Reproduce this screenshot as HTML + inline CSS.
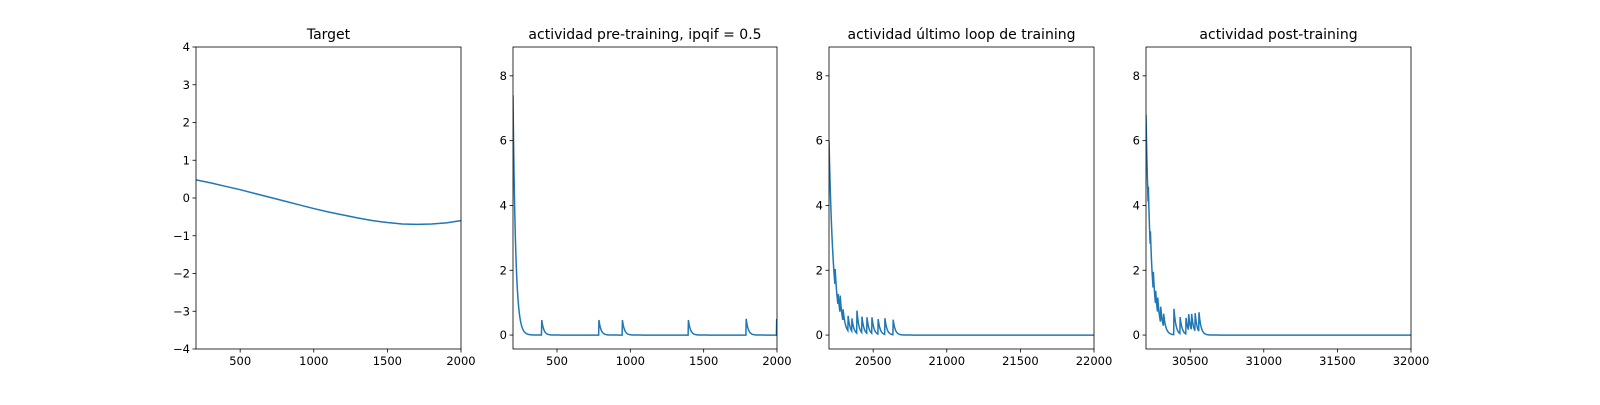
<!DOCTYPE html>
<html><head><meta charset="utf-8"><style>
body{margin:0;background:#fff}
svg text{font-family:"DejaVu Sans","Liberation Sans",sans-serif;fill:#000}
</style></head><body>
<svg id="fig" width="1600" height="400" xmlns="http://www.w3.org/2000/svg"></svg>
<script>
// Panel 1: target
const targetX = [200,300,400,500,600,700,800,900,1000,1100,1200,1300,1400,1500,1600,1700,1800,1900,2000];
const targetY = [0.48,0.40,0.31,0.22,0.12,0.02,-0.08,-0.18,-0.28,-0.37,-0.45,-0.53,-0.60,-0.65,-0.69,-0.70,-0.69,-0.66,-0.60];
// Panel 2: pre-training spikes
const preSpikeT = [200,395,785,945,1395,1790,1998];
const preSpikeA = [7.4,0.5,0.5,0.5,0.5,0.5,0.5];
// Panel 3: last training loop spikes
const lastSpikeT = [20200,20241,20261,20275,20295,20329,20356,20390,20424,20458,20492,20533,20580,20635];
const lastSpikeA = [6.0,0.6,0.4,0.6,0.4,0.5,0.4,0.7,0.5,0.5,0.5,0.5,0.5,0.5];
// Panel 4: post-training spikes
const postSpikeT = [30200,30215,30230,30250,30265,30280,30300,30320,30390,30431,30472,30490,30510,30533,30560];
const postSpikeA = [6.8,0.8,0.6,0.6,0.5,0.5,0.5,0.4,0.8,0.55,0.5,0.5,0.5,0.6,0.6];
const xTicks1 = [500,1000,1500,2000];
const xTicks3 = [20500,21000,21500,22000];
const xTicks4 = [30500,31000,31500,32000];
const yTicks1 = [-4,-3,-2,-1,0,1,2,3,4];
const yTicksAct = [0,2,4,6,8];

const NS="http://www.w3.org/2000/svg";
const svg=document.getElementById('fig');
function mk(tag,attrs,parent){const e=document.createElementNS(NS,tag);for(const k in attrs)e.setAttribute(k,attrs[k]);(parent||svg).appendChild(e);return e;}

function spikeSeries(ts,as,x0,x1,tau,tau0){
  const xs=[],ys=[];
  for(let x=x0;x<=x1;x+=2){
    let v=0;
    for(let i=0;i<ts.length;i++){if(x>=ts[i]){const t=i===0?tau0:tau;v+=as[i]*Math.exp(-(x-ts[i])/t);}}
    xs.push(x);ys.push(v);
  }
  return [xs,ys];
}

function panel(idx,left,right,x0,x1,y0,y1,xt,yt,title,xs,ys){
  const top=47,bot=349;
  const g=mk('g',{});
  
  
  const X=v=>left+(v-x0)/(x1-x0)*(right-left);
  const Y=v=>bot-(v-y0)/(y1-y0)*(bot-top);
  const cp=mk('clipPath',{id:'cp'+idx},g);mk('rect',{x:left,y:top,width:right-left,height:bot-top},cp);
  let d='';xs.forEach((x,i)=>{d+=(i?'L':'M')+X(x).toFixed(2)+','+Y(ys[i]).toFixed(2);});
  const p=mk('path',{d:d,fill:'none',stroke:'#1f77b4','stroke-width':1.5,'clip-path':'url(#cp'+idx+')'},g);
  
  
  const fr=mk('rect',{x:left,y:top,width:right-left,height:bot-top,fill:'none',stroke:'#000','stroke-width':0.8},g);
  
  
  xt.forEach(v=>{const x=X(v);mk('line',{x1:x,x2:x,y1:bot,y2:bot+3.5,stroke:'#000','stroke-width':0.8},g);
    const t=mk('text',{x:x,y:bot+16,'text-anchor':'middle','font-size':11.5},g);t.textContent=v;
    });
  yt.forEach(v=>{const y=Y(v);mk('line',{x1:left,x2:left-3.5,y1:y,y2:y,stroke:'#000','stroke-width':0.8},g);
    const t=mk('text',{x:left-6,y:y+4,'text-anchor':'end','font-size':11.5},g);t.textContent=v<0?'\u2212'+(-v):v;
    });
  const tt=mk('text',{x:(left+right)/2,y:39,'text-anchor':'middle','font-size':14},g);tt.textContent=title;
  
  
}
const yA0=-0.43,yA1=8.89;
panel(1,196,461,200,2000,-4,4,xTicks1,yTicks1,'Target',targetX,targetY);
let s=spikeSeries(preSpikeT,preSpikeA,200,2000,14,18);
panel(2,513,777,200,2000,yA0,yA1,xTicks1,yTicksAct,'actividad pre-training, ipqif = 0.5',s[0],s[1]);
s=spikeSeries(lastSpikeT,lastSpikeA,20200,22000,14,30);
panel(3,829,1094,20200,22000,yA0,yA1,xTicks3,yTicksAct,'actividad último loop de training',s[0],s[1]);
s=spikeSeries(postSpikeT,postSpikeA,30200,32000,14,28);
panel(4,1146,1411,30200,32000,yA0,yA1,xTicks4,yTicksAct,'actividad post-training',s[0],s[1]);
</script>
</body></html>
